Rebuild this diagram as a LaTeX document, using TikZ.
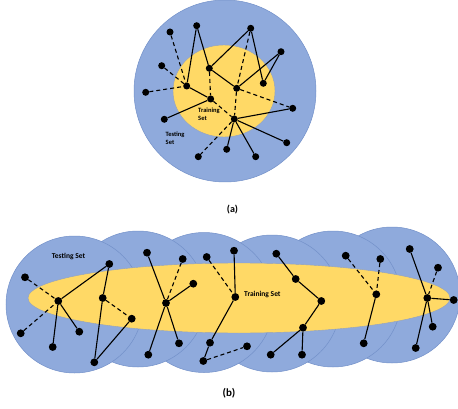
\documentclass[tikz,border=0pt]{standalone}
\usepackage{fontspec}
\setmainfont{Carlito}
\definecolor{bluefill}{HTML}{8FAADC}
\definecolor{blueedge}{HTML}{7391C9}
\definecolor{yellowfill}{HTML}{FFD966}
\definecolor{yellowedge}{HTML}{8FA0C0}
\begin{document}
\begin{tikzpicture}[x=1pt,y=-1pt,
  dot/.style={circle, fill=black, inner sep=0pt, minimum size=7.8pt},
  tdot/.style={circle, fill=black, inner sep=0pt, minimum size=7pt},
  sl/.style={line width=1.1pt},
  dl/.style={line width=1.1pt, dash pattern=on 4pt off 3pt},
  bluedisc/.style={fill=bluefill, draw=blueedge, line width=0.5pt},
  yellowarea/.style={fill=yellowfill, draw=yellowedge, line width=0.4pt},
  lab/.style={font=\bfseries\fontsize{6.5}{8}\selectfont, align=left, inner sep=0pt, anchor=north west},
  blab/.style={font=\bfseries\fontsize{7.5}{9}\selectfont, inner sep=0pt, anchor=west},
  captext/.style={font=\bfseries\fontsize{10}{11}\selectfont, inner sep=0pt}]
\useasboundingbox (0,0) rectangle (458,409);

% ---------- (a) ----------
\path[bluedisc] (225,91) circle [radius=91pt];
\path[yellowarea] (224,91) ellipse [x radius=51pt, y radius=46pt];

\node[tdot] (tA) at (170,32) {};
\node[tdot] (tB) at (196.7,25.7) {};
\node[tdot] (tC) at (250.7,28.3) {};
\node[tdot] (tD) at (281,51.7) {};
\node[tdot] (tE) at (161.7,65.7) {};
\node[tdot] (tF) at (209.3,68.3) {};
\node[tdot] (tG) at (186.7,86) {};
\node[tdot] (tH) at (236.7,88.3) {};
\node[tdot] (tI) at (263.3,83.3) {};
\node[tdot] (tJ) at (145.7,92.3) {};
\node[tdot] (tK) at (210.7,99) {};
\node[tdot] (tL) at (292.7,108.3) {};
\node[tdot] (tM) at (164.3,119.3) {};
\node[tdot] (tN) at (234.3,119) {};
\node[tdot] (tO) at (286.7,142.7) {};
\node[tdot] (tP) at (226.7,149.3) {};
\node[tdot] (tQ) at (255.7,156.7) {};
\node[tdot] (tR) at (198.3,156.7) {};

\draw[sl] (tB) -- (tG);
\draw[sl] (tB) -- (tF);
\draw[sl] (tF) -- (tC);
\draw[sl] (tC) -- (tI);
\draw[sl] (tD) -- (tI);
\draw[sl] (tD) -- (tH);
\draw[sl] (tF) -- (tH);
\draw[sl] (tG) -- (tK);
\draw[sl] (tK) -- (tM);
\draw[sl] (tN) -- (tL);
\draw[sl] (tN) -- (tO);
\draw[sl] (tN) -- (tQ);
\draw[sl] (tN) -- (tP);
\draw[dl] (tA) -- (tG);
\draw[dl] (tE) -- (tG);
\draw[dl] (tJ) -- (tG);
\draw[dl] (tF) -- (tK);
\draw[dl] (tC) -- (tH);
\draw[dl] (tH) -- (tN);
\draw[dl] (tH) -- (tL);
\draw[dl] (tK) -- (tN);
\draw[dl] (tN) -- (tR);

\node[lab] (ttrain) at (198,107.5) {Training\\Set};
\node[lab] (ttest) at (165.5,132) {Testing\\Set};
\node[captext] (capa) at (232.5,210) {(a)};

% ---------- (b) ----------
\path[bluedisc] (392,295) circle [radius=68pt];
\path[bluedisc] (333,299) circle [radius=68pt];
\path[bluedisc] (272,303.5) circle [radius=68.5pt];
\path[bluedisc] (204,302.5) circle [radius=70pt];
\path[bluedisc] (138,299) circle [radius=68pt];
\path[bluedisc] (74.5,304.5) circle [radius=68.5pt];
\path[yellowarea] (239,298) ellipse [x radius=211pt, y radius=35pt];

\node[dot] (b1) at (25,277.3) {};
\node[dot] (b2) at (58.3,301) {};
\node[dot] (b3) at (20.7,333.3) {};
\node[dot] (b4) at (52.7,347) {};
\node[dot] (b5) at (79.3,331.7) {};
\node[dot] (b6) at (109.3,264) {};
\node[dot] (b7) at (102.7,298) {};
\node[dot] (b8) at (131.7,318.7) {};
\node[dot] (b9) at (94.3,362.3) {};
\node[dot] (b10) at (147,252.7) {};
\node[dot] (b11) at (182.7,259) {};
\node[dot] (b12) at (193.3,283.7) {};
\node[dot] (b13) at (166,303) {};
\node[dot] (b14) at (179,343.3) {};
\node[dot] (b15) at (148.3,354.7) {};
\node[dot] (b16) at (206.7,257) {};
\node[dot] (b17) at (210,342.7) {};
\node[dot] (b18) at (203.3,361) {};
\node[dot] (c1) at (234,250.7) {};
\node[dot] (c2) at (235.3,297) {};
\node[dot] (c3) at (247,346.3) {};
\node[dot] (c4) at (276.3,253.7) {};
\node[dot] (c5) at (295.7,279) {};
\node[dot] (c6) at (321.3,301) {};
\node[dot] (c7) at (303,327.7) {};
\node[dot] (c8) at (270.7,354.7) {};
\node[dot] (c9) at (302,354.7) {};
\node[dot] (c10) at (345.7,255.7) {};
\node[dot] (c11) at (380.3,259) {};
\node[dot] (c12) at (376.3,294.3) {};
\node[dot] (c13) at (363.7,343.3) {};
\node[dot] (c14) at (409.7,249) {};
\node[dot] (c15) at (438,267.7) {};
\node[dot] (c16) at (427.3,298) {};
\node[dot] (c17) at (453.7,300) {};
\node[dot] (c18) at (432.7,326.7) {};
\node[dot] (c19) at (415.7,348) {};

\draw[dl] (b1) -- (b2);
\draw[dl] (b3) -- (b2);
\draw[sl] (b2) -- (b4);
\draw[sl] (b2) -- (b5);
\draw[sl] (b2) -- (b6);
\draw[sl] (b6) -- (b7);
\draw[sl] (b7) -- (b9);
\draw[sl] (b9) -- (b8);
\draw[dl] (b7) -- (b8);
\draw[sl] (b10) -- (b13);
\draw[dl] (b11) -- (b13);
\draw[sl] (b12) -- (b13);
\draw[sl] (b13) -- (b14);
\draw[sl] (b13) -- (b15);
\draw[dl] (b16) -- (c2);
\draw[sl] (c1) -- (c2);
\draw[sl] (c2) -- (b17);
\draw[sl] (b17) -- (b18);
\draw[dl] (b18) -- (c3);
\draw[sl] (c4) -- (c5);
\draw[sl] (c5) -- (c6);
\draw[sl] (c6) -- (c7);
\draw[sl] (c7) -- (c8);
\draw[sl] (c7) -- (c9);
\draw[dl] (c10) -- (c12);
\draw[dl] (c11) -- (c12);
\draw[sl] (c12) -- (c13);
\draw[sl] (c14) -- (c16);
\draw[dl] (c15) -- (c16);
\draw[sl] (c16) -- (c17);
\draw[sl] (c16) -- (c18);
\draw[sl] (c16) -- (c19);

\node[blab] (btest) at (51.7,256.7) {Testing Set};
\node[blab] (btrain) at (244,295) {Training Set};
\node[captext, font=\bfseries\fontsize{11}{12}\selectfont] (capb) at (229,393) {(b)};
\end{tikzpicture}
\end{document}
